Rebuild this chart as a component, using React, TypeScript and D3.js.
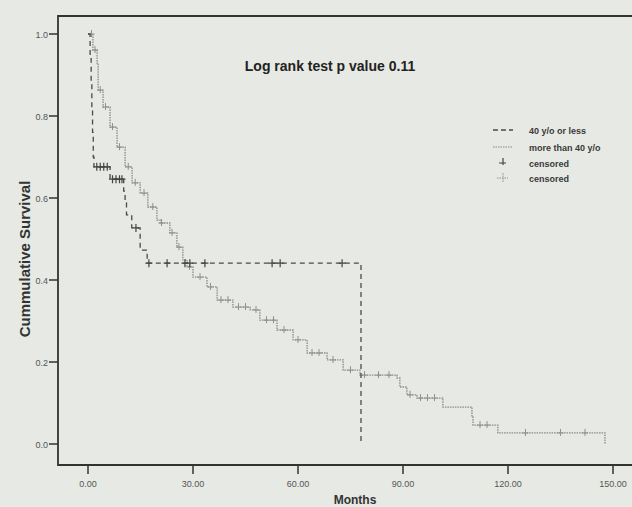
import React, { useEffect, useRef } from "react";
import * as d3 from "d3";

// 40 y/o or less : [months, survival] at each step
const youngSteps = [
  [0, 1.0], [0.6, 0.94], [0.9, 0.88], [1.1, 0.82], [1.3, 0.76], [1.5, 0.7], [1.7, 0.676],
  [6.3, 0.646], [10.2, 0.617], [10.6, 0.588], [11.0, 0.559], [12.5, 0.527],
  [14.9, 0.473], [16.9, 0.441], [78, 0.0],
];
const youngCensored = [2.5, 3.5, 4.5, 5.5, 7.0, 8.0, 9.0, 9.7, 13.7, 17.4, 22.6, 27.7, 29.1, 33.4, 52.6, 54.9, 72.6];

// more than 40 y/o
const oldSteps = [
  [0, 1.0], [1.4, 0.961], [2.6, 0.929], [2.9, 0.863], [4.3, 0.822], [6.3, 0.773],
  [8.3, 0.724], [10.6, 0.676], [12.6, 0.637], [14.9, 0.612], [17.1, 0.578],
  [19.7, 0.546], [20.6, 0.539], [23.4, 0.515], [25.4, 0.48], [27.1, 0.449],
  [28.3, 0.432], [30.0, 0.407], [34.0, 0.383], [36.9, 0.351], [41.4, 0.334],
  [46.3, 0.327], [49.1, 0.302], [54.0, 0.278], [58.6, 0.254], [62.6, 0.222],
  [68.3, 0.205], [72.9, 0.18], [77.7, 0.168], [88.3, 0.161], [89.1, 0.139],
  [91.1, 0.12], [94.0, 0.112], [101.4, 0.09], [109.7, 0.066], [110.0, 0.046],
  [117.1, 0.027], [147.7, 0.0],
];
const oldCensored = [
  1.0, 2.0, 3.5, 5.0, 7.0, 9.0, 11.5, 13.5, 16.0, 18.5, 21.0, 24.0, 26.0, 29.0,
  32.0, 35.0, 38.0, 40.0, 43.0, 45.0, 48.0, 51.0, 53.0, 56.0, 60.0, 64.0, 66.0,
  70.0, 75.0, 79.0, 83.0, 86.0, 92.0, 95.0, 97.0, 99.0, 112.0, 114.0, 125.0, 135.0, 142.0,
];

const yTicks = [0, 0.2, 0.4, 0.6, 0.8, 1.0];
const xTicks = [0, 30, 60, 90, 120, 150];
const legendItems = ["40 y/o or less", "more than 40 y/o", "censored", "censored"];

const W = 632;
const H = 507;
const FONT = "'Liberation Sans', Arial, sans-serif";

function survivalAt(steps, t) {
  let s = steps[0][1];
  for (const p of steps) if (p[0] <= t) s = p[1];
  return s;
}

export default function App() {
  const svgRef = useRef(null);

  useEffect(() => {
    const svg = d3.select(svgRef.current);
    svg.selectAll("*").remove();

    const x = d3.scaleLinear().domain([0, 150]).range([88, 613]);
    const y = d3.scaleLinear().domain([0, 1]).range([444, 34]);
    const axisX = 58;   // y axis position
    const baseY = 465;  // x axis position
    const topY = 16;

    svg.append("rect").attr("width", W).attr("height", H).attr("fill", "#e7e9e4");

    // frame
    svg.append("path")
      .attr("d", `M${W},${topY}H${axisX}V${baseY}H${W}`)
      .attr("fill", "none").attr("stroke", "#333").attr("stroke-width", 1.8);

    // y ticks
    const yg = svg.append("g");
    yg.selectAll("line").data(yTicks).join("line")
      .attr("x1", axisX - 9).attr("x2", axisX)
      .attr("y1", (d) => y(d)).attr("y2", (d) => y(d))
      .attr("stroke", "#333").attr("stroke-width", 1.5);
    yg.selectAll("text").data(yTicks).join("text")
      .attr("x", axisX - 10).attr("y", (d) => y(d) + 3.5)
      .attr("text-anchor", "end").attr("font-family", FONT).attr("font-size", 9)
      .attr("fill", "#555").text((d) => d3.format(".1f")(d));

    // x ticks
    const xg = svg.append("g");
    xg.selectAll("line").data(xTicks).join("line")
      .attr("x1", (d) => x(d)).attr("x2", (d) => x(d))
      .attr("y1", baseY).attr("y2", baseY + 9)
      .attr("stroke", "#333").attr("stroke-width", 1.5);
    xg.selectAll("text").data(xTicks).join("text")
      .attr("x", (d) => x(d)).attr("y", baseY + 22)
      .attr("text-anchor", "middle").attr("font-family", FONT).attr("font-size", 9)
      .attr("fill", "#555").text((d) => d3.format(".2f")(d));

    // axis titles
    svg.append("text")
      .attr("x", 355).attr("y", 504).attr("text-anchor", "middle")
      .attr("font-family", FONT).attr("font-size", 12).attr("font-weight", "bold")
      .attr("fill", "#333").text("Months");
    svg.append("text")
      .attr("transform", "translate(30,259) rotate(-90)").attr("text-anchor", "middle")
      .attr("font-family", FONT).attr("font-size", 15).attr("font-weight", "bold")
      .attr("fill", "#333").text("Cummulative Survival");

    // title
    svg.append("text")
      .attr("x", 330).attr("y", 71).attr("text-anchor", "middle")
      .attr("font-family", FONT).attr("font-size", 14).attr("font-weight", "bold")
      .attr("fill", "#222").text("Log rank test p value 0.11");

    const stepLine = d3.line()
      .x((d) => x(d[0])).y((d) => y(d[1]))
      .curve(d3.curveStepAfter);

    // more than 40 y/o
    svg.append("path").attr("d", stepLine(oldSteps))
      .attr("fill", "none").attr("stroke", "#8a8a8a")
      .attr("stroke-width", 1.3).attr("stroke-dasharray", "1.5,1");
    svg.append("g").selectAll("path").data(oldCensored).join("path")
      .attr("d", (d) => {
        const cx = x(d), cy = y(survivalAt(oldSteps, d));
        return `M${cx - 3},${cy}H${cx + 3}M${cx},${cy - 4}V${cy + 3}`;
      })
      .attr("stroke", "#909090").attr("stroke-width", 1).attr("fill", "none");

    // 40 y/o or less
    svg.append("path").attr("d", stepLine(youngSteps))
      .attr("fill", "none").attr("stroke", "#4a4a4a")
      .attr("stroke-width", 1.3).attr("stroke-dasharray", "5,4");
    svg.append("g").selectAll("path").data(youngCensored).join("path")
      .attr("d", (d) => {
        const cx = x(d), cy = y(survivalAt(youngSteps, d));
        return `M${cx - 3.5},${cy}H${cx + 3.5}M${cx},${cy - 4}V${cy + 4}`;
      })
      .attr("stroke", "#444").attr("stroke-width", 1.2).attr("fill", "none");

    // legend
    const lg = svg.append("g");
    const rowY = [130, 147, 163, 178];
    lg.selectAll("text").data(legendItems).join("text")
      .attr("x", 529).attr("y", (d, i) => rowY[i] + 3.5)
      .attr("font-family", FONT).attr("font-size", 9).attr("font-weight", "bold")
      .attr("fill", "#3a3a3a").text((d) => d);
    lg.append("line").attr("x1", 493).attr("x2", 513).attr("y1", rowY[0]).attr("y2", rowY[0])
      .attr("stroke", "#4a4a4a").attr("stroke-width", 1.3).attr("stroke-dasharray", "5,3");
    lg.append("line").attr("x1", 493).attr("x2", 513).attr("y1", rowY[1]).attr("y2", rowY[1])
      .attr("stroke", "#8a8a8a").attr("stroke-width", 1.2).attr("stroke-dasharray", "1.5,1");
    lg.append("path")
      .attr("d", `M499,${rowY[2]}H506M503,${rowY[2] - 5}V${rowY[2] + 2}`)
      .attr("stroke", "#444").attr("stroke-width", 1.2).attr("fill", "none");
    lg.append("path")
      .attr("d", `M497,${rowY[3]}H508M503,${rowY[3] - 5}V${rowY[3] + 4}`)
      .attr("stroke", "#909090").attr("stroke-width", 1).attr("stroke-dasharray", "1.5,1").attr("fill", "none");
  }, []);

  return (
    <svg ref={svgRef} width={W} height={H}
      style={{ position: "absolute", left: 0, top: 0, display: "block" }} />
  );
}
